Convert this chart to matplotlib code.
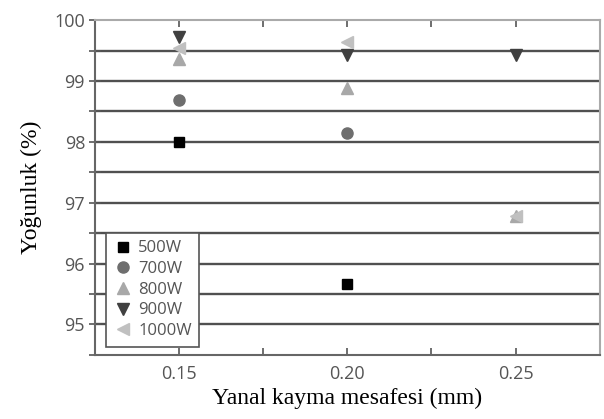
import matplotlib.pyplot as plt

# -------- Data --------
x_500 = [0.15, 0.20]
y_500 = [98.0, 95.67]
x_700 = [0.15, 0.20]
y_700 = [98.68, 98.15]
x_800 = [0.15, 0.20, 0.25]
y_800 = [99.36, 98.88, 96.78]
x_900 = [0.15, 0.20, 0.25]
y_900 = [99.72, 99.42, 99.42]
x_1000 = [0.15, 0.20, 0.25]
y_1000 = [99.55, 99.64, 96.79]

series = [
    ('500W', x_500, y_500, 's', '#000000', 7),
    ('700W', x_700, y_700, 'o', '#6e6e6e', 8),
    ('800W', x_800, y_800, '^', '#a8a8a8', 8),
    ('900W', x_900, y_900, 'v', '#404040', 8),
    ('1000W', x_1000, y_1000, '<', '#c0c0c0', 8),
]

fig = plt.figure(figsize=(6.04, 4.19), dpi=100)
ax = fig.add_axes([0.157, 0.153, 0.836, 0.799])

# grid lines every 0.5
for yv in [95, 95.5, 96, 96.5, 97, 97.5, 98, 98.5, 99, 99.5]:
    ax.axhline(yv, color='#505050', lw=1.7, zorder=1)

for name, xs, ys, m, c, ms in series:
    ax.plot(xs, ys, linestyle='none', marker=m, color=c, markersize=ms,
            label=name, zorder=3)

ax.set_xlim(0.125, 0.275)
ax.set_ylim(94.5, 100)
ax.set_xticks([0.15, 0.20, 0.25])
ax.set_xticklabels(['0.15', '0.20', '0.25'])
ax.set_xticks([0.175, 0.225], minor=True)
ax.set_yticks([95, 96, 97, 98, 99, 100])
ax.set_yticks([94.5, 95.5, 96.5, 97.5, 98.5, 99.5], minor=True)

tick_font = 'Open Sans'
for lab in ax.get_xticklabels() + ax.get_yticklabels():
    lab.set_family(tick_font)
    lab.set_fontsize(13)
    lab.set_color('#555555')

ax.tick_params(axis='x', which='both', direction='in', length=5, width=1.2,
               color='#555555', top=True, pad=7)
ax.tick_params(axis='y', which='both', direction='inout', length=8, width=1.2,
               color='#555555', pad=3)

for side in ['left', 'bottom']:
    ax.spines[side].set_color('#666666')
    ax.spines[side].set_linewidth(1.5)
for side in ['top', 'right']:
    ax.spines[side].set_color('#aaaaaa')
    ax.spines[side].set_linewidth(1.5)

ax.set_xlabel('Yanal kayma mesafesi (mm)', family='Liberation Serif',
              fontsize=17, labelpad=4)
ax.set_ylabel('Yoğunluk (%)', family='Liberation Serif', fontsize=17,
              labelpad=9)

leg = ax.legend(loc='lower left', bbox_to_anchor=(0.015, 0.015),
                prop={'family': tick_font, 'size': 12}, labelcolor='#555555',
                frameon=True, fancybox=False, framealpha=1,
                handletextpad=0.3, handlelength=1.2, borderpad=0.45,
                labelspacing=0.28, borderaxespad=0.2)
leg.get_frame().set_edgecolor('#555555')
leg.get_frame().set_linewidth(1.2)

fig.savefig('out.png', dpi=100)
